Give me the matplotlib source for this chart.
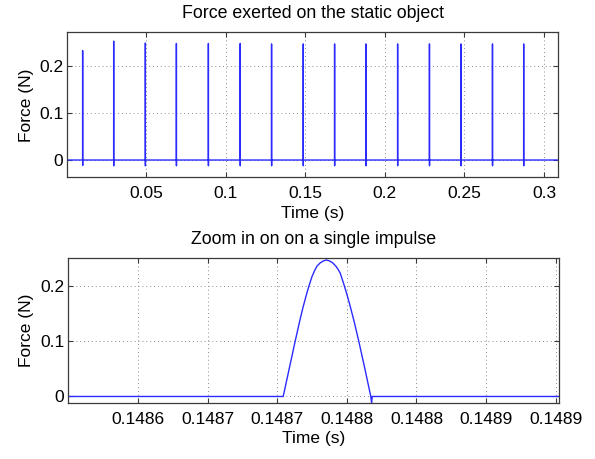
import numpy as np
import matplotlib
matplotlib.use("Agg")
import matplotlib.pyplot as plt
from matplotlib.ticker import FixedLocator, FixedFormatter

plt.rcParams['font.family'] = ['Liberation Sans', 'DejaVu Sans']
plt.rcParams['font.size'] = 12.5

# impulse onsets (s) and peak forces (N) over the whole run
impulse_onsets = [0.0101, 0.0296, 0.0495, 0.0690, 0.0891, 0.1091, 0.1288,
                  0.1487043, 0.1684, 0.1881, 0.2080, 0.2280, 0.2478, 0.2676, 0.2872]
impulse_peaks = [0.233, 0.253, 0.249, 0.248, 0.248, 0.248, 0.247,
                 0.247, 0.247, 0.247, 0.247, 0.247, 0.247, 0.247, 0.247]

# one contact pulse: time after onset (us) and force (N)
pulse_us = [0.0, 4.3, 8.6, 12.0, 14.3, 17.1, 19.0, 20.7, 22.6, 24.3, 26.5, 28.7, 30.9,
            33.0, 35.4, 37.9, 39.4, 40.9, 43.3, 45.6, 47.6, 50.8, 54.0, 58.5, 62.9,
            63.5, 63.9]
pulse_force = [0.0, 0.05, 0.10, 0.138, 0.162, 0.188, 0.204, 0.217, 0.228, 0.236, 0.2415,
               0.245, 0.247, 0.2455, 0.242, 0.2355, 0.230, 0.2235, 0.205, 0.186, 0.168,
               0.137, 0.103, 0.052, 0.0, -0.0123, 0.0]

run_span = [0.0006, 0.3086]
zoom_span = [0.14855, 0.148902]
zoom_index = 7

top_xticks = [0.05, 0.1, 0.15, 0.2, 0.25, 0.3]
top_xticklabels = ["0.05", "0.1", "0.15", "0.2", "0.25", "0.3"]
zoom_xticks = [0.14860, 0.14865, 0.14870, 0.14875, 0.14880, 0.14885, 0.14890]
zoom_xticklabels = ["0.1486", "0.1487", "0.1487", "0.1488", "0.1488", "0.1489", "0.1489"]
yticks = [0, 0.1, 0.2]
yticklabels = ["0", "0.1", "0.2"]

pulse_t = np.array(pulse_us) * 1e-6
pulse_f = np.array(pulse_force)


def build_signal(span, onsets, peaks):
    t = [np.array([span[0]])]
    f = [np.array([0.0])]
    for t0, pk in zip(onsets, peaks):
        t.append(t0 + pulse_t)
        f.append(pulse_f * pk / pulse_f.max())
    t.append(np.array([span[1]]))
    f.append(np.array([0.0]))
    return np.concatenate(t), np.concatenate(f)


t_run, f_run = build_signal(run_span, impulse_onsets, impulse_peaks)
t_zoom, f_zoom = build_signal(zoom_span, [impulse_onsets[zoom_index]],
                              [impulse_peaks[zoom_index]])

line_color = "#2b2bff"
edge = "#3a3a3a"

fig = plt.figure(figsize=(5.95, 4.59), dpi=100)
ax1 = fig.add_axes([0.1134, 0.6137, 0.8239, 0.3159])
ax2 = fig.add_axes([0.1148, 0.1214, 0.8239, 0.3159])


def style(ax):
    for s in ax.spines.values():
        s.set_color(edge)
        s.set_linewidth(0.9)
    ax.tick_params(direction="in", length=3.6, width=0.8, color=edge,
                   top=True, right=True)
    ax.tick_params(axis="x", pad=6.5)
    ax.tick_params(axis="y", pad=3)
    ax.grid(True, color="#8a8a8a", linestyle=(0, (1, 3)), linewidth=0.7)
    ax.set_axisbelow(True)
    ax.yaxis.set_major_locator(FixedLocator(yticks))
    ax.yaxis.set_major_formatter(FixedFormatter(yticklabels))
    ax.set_xlabel("Time (s)", labelpad=3)
    ax.set_ylabel("Force (N)", labelpad=4)


ax1.plot(t_run, f_run, color=line_color, linewidth=1.0)
ax1.set_xlim(*run_span)
ax1.set_ylim(-0.0368, 0.2717)
ax1.xaxis.set_major_locator(FixedLocator(top_xticks))
ax1.xaxis.set_major_formatter(FixedFormatter(top_xticklabels))
style(ax1)
ax1.set_title("Force exerted on the static object", fontsize=12.8, pad=10)

ax2.plot(t_zoom, f_zoom, color=line_color, linewidth=1.0)
ax2.set_xlim(*zoom_span)
ax2.set_ylim(-0.0123, 0.25)
ax2.xaxis.set_major_locator(FixedLocator(zoom_xticks))
ax2.xaxis.set_major_formatter(FixedFormatter(zoom_xticklabels))
style(ax2)
ax2.set_title("Zoom in on on a single impulse", fontsize=12.8, pad=10)

fig.savefig("out.png", dpi=100)
